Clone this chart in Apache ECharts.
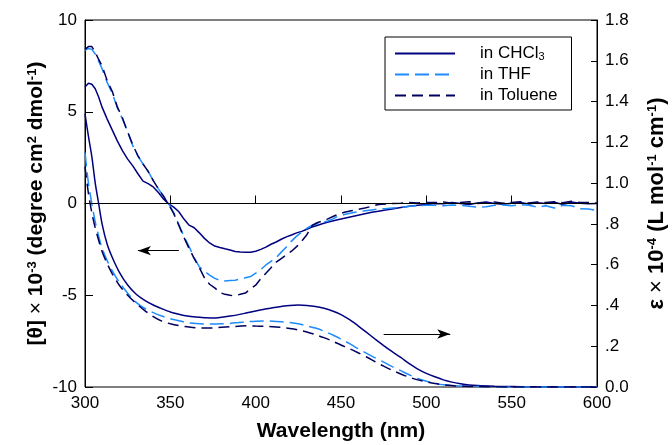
<!DOCTYPE html>
<html>
<head>
<meta charset="utf-8">
<script src="https://cdn.jsdelivr.net/npm/echarts/dist/echarts.min.js"></script>
<style>
html,body{margin:0;padding:0;background:#fff;}
#chart{width:672px;height:445px;}
</style>
</head>
<body>
<div id="chart"></div>
<script>
// ---- data ----
const seriesNames = ['in CHCl3', 'in THF', 'in Toluene'];

const cdWavelength = [300,302,304,306,308,310,313,316,319,322,325,328,331,334,337,340,343,346,349,352,355,358,361,364,367,370,373,376,379,382,385,388,391,394,397,400,403,406,409,412,415,418,421,424,427,430,433,436,439,442,445,448,452,456,460,464,468,472,476,480,485,490,495,500,505,510,515,520,525,530,535,540,545,550,555,560,565,570,575,580,585,590,595,600];

const cdCHCl3 = [6.35,6.55,6.5,6.25,5.8,5.25,4.6,4.0,3.4,2.87,2.42,2.05,1.62,1.22,1.08,0.9,0.6,0.25,-0.02,-0.2,-0.45,-0.85,-1.18,-1.32,-1.6,-1.9,-2.15,-2.32,-2.4,-2.47,-2.53,-2.62,-2.64,-2.65,-2.66,-2.6,-2.5,-2.38,-2.22,-2.1,-1.95,-1.82,-1.72,-1.6,-1.52,-1.4,-1.28,-1.2,-1.1,-1.02,-0.95,-0.88,-0.8,-0.72,-0.64,-0.56,-0.48,-0.42,-0.36,-0.3,-0.22,-0.15,-0.1,-0.06,0.0,-0.02,0.05,0.0,-0.05,0.03,0.08,0.0,-0.04,0.02,0.06,-0.03,0.04,0.0,0.07,-0.05,0.08,0.02,-0.02,0.0];

const cdTHF = [8.35,8.45,8.4,8.15,7.75,7.35,6.6,6.0,5.2,4.6,3.9,3.15,2.6,2.15,1.75,1.25,0.8,0.4,-0.02,-0.5,-1.15,-1.8,-2.35,-2.95,-3.45,-3.7,-3.9,-4.08,-4.18,-4.22,-4.2,-4.18,-4.12,-4.05,-3.98,-3.8,-3.6,-3.35,-3.15,-2.95,-2.65,-2.37,-2.05,-1.78,-1.55,-1.35,-1.2,-1.1,-1.02,-0.97,-0.85,-0.7,-0.6,-0.52,-0.45,-0.4,-0.35,-0.3,-0.28,-0.25,-0.22,-0.15,-0.12,-0.1,-0.1,-0.12,-0.08,-0.1,-0.15,-0.2,-0.18,-0.1,-0.08,-0.12,-0.06,-0.1,-0.2,-0.12,-0.25,-0.1,-0.12,-0.28,-0.3,-0.38];

const cdToluene = [8.4,8.55,8.55,8.25,7.85,7.5,6.7,6.1,5.25,4.65,3.9,3.2,2.6,2.15,1.75,1.25,0.8,0.4,-0.05,-0.55,-1.2,-1.85,-2.45,-3.0,-3.5,-4.05,-4.4,-4.6,-4.85,-4.95,-5.0,-5.02,-4.95,-4.88,-4.65,-4.45,-4.1,-3.8,-3.5,-3.2,-3.0,-2.8,-2.6,-2.35,-2.05,-1.7,-1.2,-1.05,-0.95,-0.85,-0.72,-0.6,-0.48,-0.4,-0.32,-0.25,-0.15,-0.05,-0.03,0.0,0.02,0.05,0.03,0.06,0.05,0.08,0.02,0.06,0.1,0.0,0.04,0.08,0.02,0.06,0.1,0.03,0.08,0.05,0.1,0.04,0.12,0.06,0.05,0.02];

const uvWavelength = [300,302,304,306,308,310,313,316,320,325,330,335,340,345,350,355,360,365,370,375,380,385,390,395,400,405,410,415,420,425,430,435,440,445,450,455,460,465,470,475,480,485,490,495,500,505,510,515,520,525,530,540,550,560,570,580,590,600];

const uvCHCl3 = [1.34,1.23,1.13,1.0,0.9,0.8,0.7,0.635,0.565,0.5,0.455,0.425,0.402,0.384,0.368,0.357,0.348,0.343,0.34,0.338,0.342,0.348,0.355,0.364,0.373,0.381,0.389,0.395,0.4,0.402,0.4,0.395,0.386,0.373,0.355,0.33,0.3,0.268,0.235,0.203,0.173,0.145,0.115,0.088,0.067,0.05,0.035,0.024,0.016,0.01,0.007,0.004,0.002,0.001,0.001,0,0,0];

const uvTHF = [1.15,1.0,0.9,0.81,0.74,0.68,0.62,0.57,0.515,0.46,0.415,0.385,0.365,0.348,0.335,0.325,0.316,0.311,0.309,0.309,0.31,0.312,0.316,0.32,0.323,0.324,0.323,0.32,0.316,0.31,0.3,0.289,0.274,0.256,0.235,0.213,0.188,0.165,0.143,0.122,0.1,0.08,0.06,0.042,0.028,0.018,0.011,0.007,0.005,0.003,0.002,0.001,0,0,0,0,0,0];

const uvToluene = [1.08,0.95,0.855,0.78,0.72,0.665,0.605,0.555,0.5,0.45,0.41,0.375,0.345,0.323,0.31,0.301,0.295,0.29,0.289,0.29,0.293,0.296,0.298,0.3,0.299,0.298,0.296,0.292,0.287,0.28,0.27,0.257,0.242,0.225,0.206,0.188,0.168,0.147,0.124,0.102,0.082,0.064,0.048,0.035,0.025,0.017,0.011,0.007,0.004,0.003,0.002,0.001,0,0,0,0,0,0];

const rightTickLabels = ['0.0','.2','.4','.6','.8','1.0','1.2','1.4','1.6','1.8'];

// annotation arrows (data coordinates): [start, end]
const arrowCD = [[355, -2.57], [331, -2.57]];
const arrowUV = [[475, 0.26], [514, 0.26]];

// ---- chart ----
const colors = { 'in CHCl3': '#000080', 'in THF': '#1e8cff', 'in Toluene': '#00005e' };
const dashes = { 'in CHCl3': 'solid', 'in THF': [14, 6], 'in Toluene': [11, 6] };
const FONT = '"Liberation Sans", Arial, sans-serif';

function zip(xs, ys) { return xs.map((x, i) => [x, ys[i]]); }

const cdData = [cdCHCl3, cdTHF, cdToluene];
const uvData = [uvCHCl3, uvTHF, uvToluene];

const series = [];
seriesNames.forEach((name, i) => {
  const s = {
    name: name, type: 'line', xAxisIndex: 0, yAxisIndex: 0,
    data: zip(cdWavelength, cdData[i]), showSymbol: false, symbol: 'none',
    lineStyle: { color: colors[name], width: 1.5, type: dashes[name] },
    itemStyle: { color: colors[name] }, z: 3
  };
  if (i === 0) {
    s.markLine = {
      silent: true, animation: false,
      label: { show: false },
      lineStyle: { color: '#000', width: 1, type: 'solid' },
      symbol: ['none', 'none'],
      data: [
        { yAxis: 0 },
        [{ coord: arrowCD[0], symbol: 'none' }, { coord: arrowCD[1], symbol: 'arrow', symbolSize: [7, 13] }]
      ]
    };
  }
  series.push(s);
});
seriesNames.forEach((name, i) => {
  const s = {
    name: name, type: 'line', xAxisIndex: 0, yAxisIndex: 1,
    data: zip(uvWavelength, uvData[i]), showSymbol: false, symbol: 'none', smooth: 0.3,
    lineStyle: { color: colors[name], width: 1.5, type: dashes[name] },
    itemStyle: { color: colors[name] }, z: 3
  };
  if (i === 0) {
    s.markLine = {
      silent: true, animation: false,
      label: { show: false },
      lineStyle: { color: '#000', width: 1, type: 'solid' },
      symbol: ['none', 'none'],
      data: [
        [{ coord: arrowUV[0], symbol: 'none' }, { coord: arrowUV[1], symbol: 'arrow', symbolSize: [7, 13] }]
      ]
    };
  }
  series.push(s);
});

function titleStyle(size) {
  return {
    fontFamily: FONT, fontSize: size, fontWeight: 'bold', color: '#000',
    rich: {
      sup: { fontFamily: FONT, fontSize: 13, fontWeight: 'bold', color: '#000', verticalAlign: 'top', lineHeight: 13 },
      n: { fontFamily: FONT, fontSize: size, fontWeight: 'normal', color: '#000' }
    }
  };
}

const option = {
  animation: false,
  backgroundColor: '#fff',
  grid: { left: 85, right: 75, top: 20, bottom: 58, show: true, borderColor: '#000', borderWidth: 1, backgroundColor: 'transparent', outerBoundsMode: 'none', containLabel: false },
  legend: {
    data: seriesNames,
    orient: 'vertical', left: 385, top: 37,
    padding: [8, 14, 6, 9],
    itemWidth: 60, itemHeight: 14, itemGap: 4,
    borderColor: '#000', borderWidth: 1, backgroundColor: '#fff',
    selectedMode: false,
    itemStyle: { opacity: 0 },
    formatter: function (n) { return n === 'in CHCl3' ? 'in CHCl{sub|3}' : n; },
    textStyle: {
      fontFamily: FONT, fontSize: 17, color: '#000', padding: [0, 0, 0, 20],
      rich: { sub: { fontFamily: FONT, fontSize: 11, color: '#000', verticalAlign: 'bottom', lineHeight: 11 } }
    }
  },
  xAxis: {
    type: 'value', min: 300, max: 600, interval: 50,
    name: 'Wavelength (nm)', nameLocation: 'middle', nameGap: 34,
    nameTextStyle: { fontFamily: FONT, fontSize: 21, fontWeight: 'bold', color: '#000' },
    axisLine: { show: true, lineStyle: { color: '#000', width: 1 } },
    axisTick: { show: true, inside: true, length: 8, lineStyle: { color: '#000' } },
    axisLabel: { fontFamily: FONT, fontSize: 17, color: '#000', margin: 8 },
    splitLine: { show: false }
  },
  yAxis: [
    {
      type: 'value', min: -10, max: 10, interval: 5, position: 'left',
      name: '[θ] {n|×} 10{sup|-3} (degree cm{sup|2} dmol{sup|-1})',
      nameLocation: 'middle', nameRotate: 90, nameGap: 38, nameMoveOverlap: false,
      nameTextStyle: titleStyle(21),
      axisLine: { show: true, lineStyle: { color: '#000', width: 1 } },
      axisTick: { show: true, inside: true, length: 8, lineStyle: { color: '#000' } },
      axisLabel: { fontFamily: FONT, fontSize: 17, color: '#000', margin: 8 },
      splitLine: { show: false }
    },
    {
      type: 'value', min: 0, max: 1.8, interval: 0.2, position: 'right',
      name: 'ε {n|×} 10{sup|-4} (L mol{sup|-1} cm{sup|-1})',
      nameLocation: 'middle', nameRotate: 90, nameGap: 49, nameMoveOverlap: false,
      nameTextStyle: titleStyle(22),
      axisLine: { show: true, lineStyle: { color: '#000', width: 1 } },
      axisTick: { show: true, inside: true, length: 6, lineStyle: { color: '#000' } },
      axisLabel: {
        fontFamily: FONT, fontSize: 17, color: '#000', margin: 8,
        formatter: function (v) { return rightTickLabels[Math.round(v / 0.2)]; }
      },
      splitLine: { show: false }
    }
  ],
  series: series
};

const chart = echarts.init(document.getElementById('chart'), null, { renderer: 'canvas' });
chart.setOption(option);
</script>
</body>
</html>
